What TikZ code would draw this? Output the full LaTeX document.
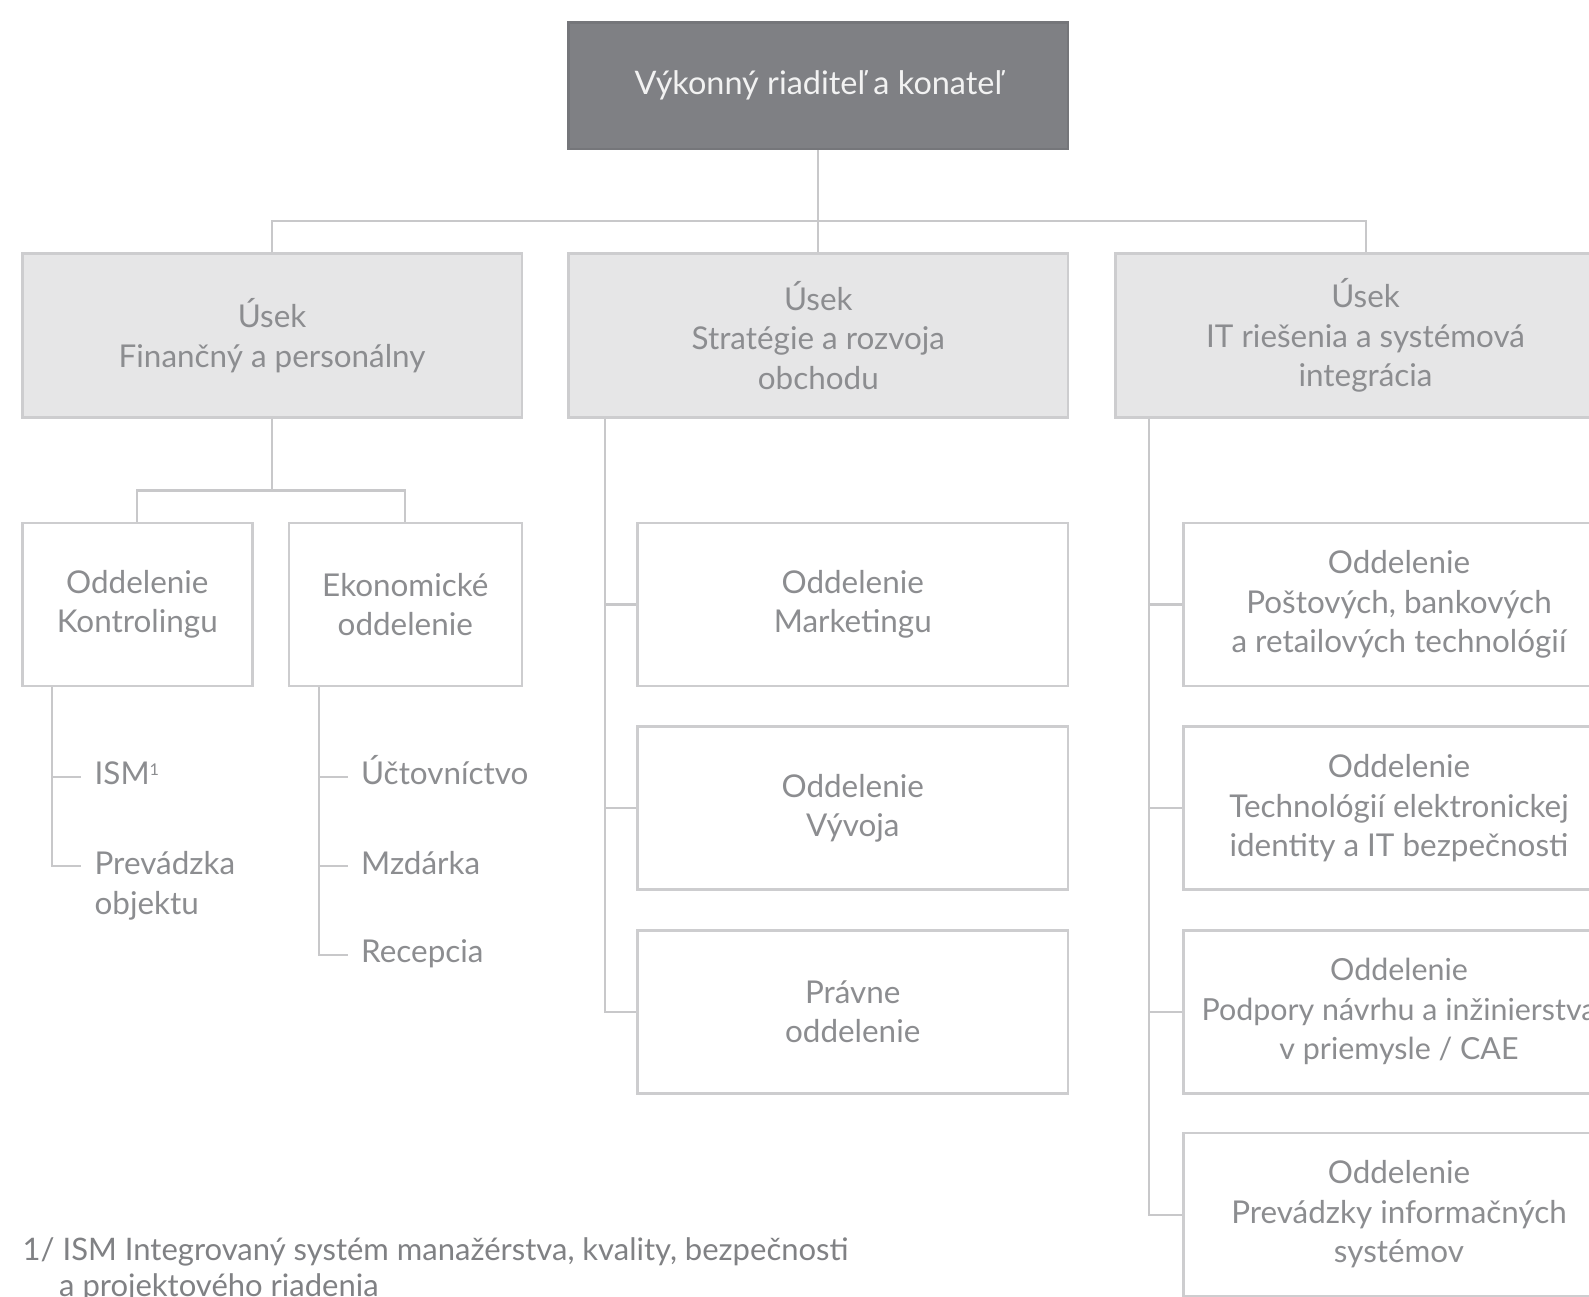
\documentclass[tikz,border=0pt]{standalone}
\usepackage{fontspec}
\setmainfont{Lato}
\usetikzlibrary{calc}
\definecolor{topfill}{HTML}{7F8084}
\definecolor{topline}{HTML}{75767A}
\definecolor{toptext}{HTML}{F2F2F2}
\definecolor{secfill}{HTML}{E6E6E7}
\definecolor{boxline}{HTML}{CDCDCF}
\definecolor{linec}{HTML}{C8C8CA}
\definecolor{txt}{HTML}{8C8D90}
\definecolor{txtb}{HTML}{808184}
\begin{document}
\begin{tikzpicture}[x=0.5pt, y=-0.5pt,
  mainfont/.style={font=\fontsize{15.5}{19.5}\selectfont},
  box/.style={rectangle, draw=boxline, line width=1.3pt, fill=white, align=center,
    text=txt, mainfont, inner sep=0pt},
  topbox/.style={box, fill=topfill, draw=topline, text=toptext,
    minimum width=246.5pt, minimum height=62.5pt},
  secbox/.style={box, fill=secfill, minimum width=246.5pt, minimum height=81pt},
  deptbox/.style={box, minimum width=212.5pt, minimum height=80.5pt},
  leaf/.style={anchor=west, inner xsep=6.5pt, inner ysep=0pt, text=txt, mainfont, align=left},
  leafone/.style={leaf, text height=10.5pt, text depth=3pt},
  conn/.style={draw=linec, line width=1pt}]
\useasboundingbox (0,0) rectangle (1568,1279);
\clip (0,0) rectangle (1568,1279);
\fill[white] (0,0) rectangle (1568,1279);

% boxes
\node[topbox, font=\fontsize{16}{19.5}\selectfont] (ceo) at (807.5,84.5) {Výkonný riaditeľ a konateľ};
\node[secbox] (fin) at (268.5,331) {Úsek\\Finančný a personálny};
\node[secbox] (str) at (807.5,331) {Úsek\\Stratégie a rozvoja\\obchodu};
\node[secbox] (its) at (1347.5,331) {Úsek\\IT riešenia a systémová\\integrácia};
\node[box, minimum width=113.5pt, minimum height=80.5pt] (kon) at (135.5,596.5) {Oddelenie\\Kontrolingu};
\node[box, minimum width=115pt, minimum height=80.5pt] (eko) at (400,596.5) {Ekonomické\\oddelenie};
\node[deptbox] (mkt) at (841.5,596.5) {Oddelenie\\Marketingu};
\node[deptbox] (vyv) at (841.5,797.5) {Oddelenie\\Vývoja};
\node[deptbox] (pra) at (841.5,998.5) {Právne\\oddelenie};
\node[deptbox] (pos) at (1380.5,596.5) {Oddelenie\\Poštových, bankových\\a retailových technológií};
\node[deptbox] (eid) at (1380.5,797.5) {Oddelenie\\Technológií elektronickej\\identity a IT bezpečnosti};
\node[deptbox, font=\fontsize{15}{19.5}\selectfont] (cae) at (1380.5,998.5) {Oddelenie\\Podpory návrhu a inžinierstva\\v priemysle / CAE};
\node[deptbox] (pis) at (1380.5,1198.5) {Oddelenie\\Prevádzky informačných\\systémov};

% leaves
\node[leafone] (ism) at (80,767) {ISM\raisebox{4.5pt}{\fontsize{8}{8}\selectfont 1}};
\node[leaf] (prev) at (80,874) {Prevádzka\\objektu};
\node[leafone] (ucto) at (343,767) {Účtovníctvo};
\node[leafone] (mzd) at (343,855) {Mzdárka};
\node[leafone] (rec) at (343,942) {Recepcia};

% footnote
\node[anchor=north west, inner sep=0pt, align=left, text=txtb,
  font=\fontsize{15.3}{17.5}\selectfont] (fn) at (22,1221)
  {1/ ISM Integrovaný systém manažérstva, kvality, bezpečnosti\\\hspace*{18pt}a projektového riadenia};

% connectors
\coordinate (bus) at (807.5,218);
\draw[conn] (ceo) -- (str);
\draw[conn] (fin.north) |- (bus) -| (its.north);
\coordinate (bustwo) at (268.5,484);
\draw[conn] (fin) -- (bustwo);
\draw[conn] (kon.north) |- (bustwo) -| (eko.north);

\coordinate (konT) at ([xshift=15.5pt]kon.south west);
\draw[conn] (konT) |- ([yshift=9.75pt]prev.west);
\draw[conn] (konT |- ism.west) -- (ism.west);

\coordinate (ekoT) at ([xshift=15.5pt]eko.south west);
\draw[conn] (ekoT) |- (rec.west);
\draw[conn] (ekoT |- ucto.west) -- (ucto.west);
\draw[conn] (ekoT |- mzd.west) -- (mzd.west);

\coordinate (strT) at ([xshift=18.5pt]str.south west);
\draw[conn] (strT) |- (pra.west);
\draw[conn] (strT |- mkt.west) -- (mkt.west);
\draw[conn] (strT |- vyv.west) -- (vyv.west);

\coordinate (itsT) at ([xshift=17pt]its.south west);
\draw[conn] (itsT) |- (pis.west);
\draw[conn] (itsT |- pos.west) -- (pos.west);
\draw[conn] (itsT |- eid.west) -- (eid.west);
\draw[conn] (itsT |- cae.west) -- (cae.west);
\end{tikzpicture}
\end{document}
